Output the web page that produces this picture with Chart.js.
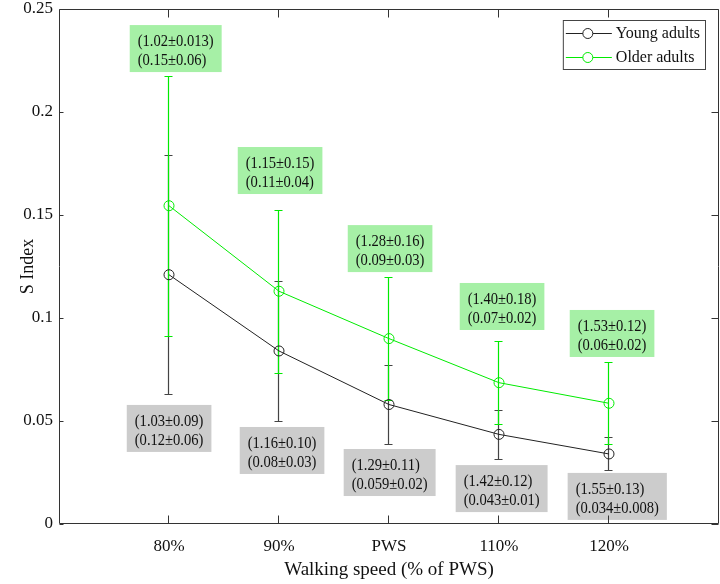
<!DOCTYPE html>
<html>
<head>
<meta charset="utf-8">
<script src="https://cdn.jsdelivr.net/npm/chart.js@4.4.1/dist/chart.umd.min.js"></script>
<style>
  body { margin: 0; background: #fff; }
  #wrap { width: 720px; height: 584px; }
</style>
</head>
<body>
<div id="wrap"><canvas id="sChart" width="720" height="584"></canvas></div>
<script>
// categories and values
const speeds = ['80%', '90%', 'PWS', '110%', '120%'];
const youngMean = [0.121, 0.084, 0.058, 0.0435, 0.034];
const youngSd = [0.058, 0.034, 0.019, 0.012, 0.008];
const olderMean = [0.1545, 0.113, 0.090, 0.0686, 0.0586];
const olderSd = [0.063, 0.0395, 0.030, 0.020, 0.020];
const yTicks = [0, 0.05, 0.1, 0.15, 0.2, 0.25];

// text shown in the boxes next to each point
const youngLabels = [
    ['(1.03\u00b10.09)', '(0.12\u00b10.06)'],
    ['(1.16\u00b10.10)', '(0.08\u00b10.03)'],
    ['(1.29\u00b10.11)', '(0.059\u00b10.02)'],
    ['(1.42\u00b10.12)', '(0.043\u00b10.01)'],
    ['(1.55\u00b10.13)', '(0.034\u00b10.008)']
];
const olderLabels = [
    ['(1.02\u00b10.013)', '(0.15\u00b10.06)'],
    ['(1.15\u00b10.15)', '(0.11\u00b10.04)'],
    ['(1.28\u00b10.16)', '(0.09\u00b10.03)'],
    ['(1.40\u00b10.18)', '(0.07\u00b10.02)'],
    ['(1.53\u00b10.12)', '(0.06\u00b10.02)']
];

// top-left corner of each text box, in axis units
const youngBoxAt = [[0.616, 0.0578], [1.643, 0.0471], [2.588, 0.0364], [3.606, 0.0286], [4.624, 0.0248]];
const olderBoxAt = [[0.643, 0.2422], [1.625, 0.183], [2.625, 0.1451], [3.643, 0.117], [4.643, 0.1039]];

const GREEN = 'rgb(0, 235, 0)';
const DARK = '#222';
const SERIF = '"Liberation Serif", "Times New Roman", serif';

const toPoints = arr => arr.map((v, i) => ({ x: i + 1, y: v }));

const frameTicks = {
    id: 'frameTicks',
    afterDraw(chart) {
        const { ctx, chartArea: a, scales: { x, y } } = chart;
        const l = Math.round(a.left) + 0.5, r = Math.round(a.right) - 0.5;
        const t = Math.round(a.top) + 0.5, b = Math.round(a.bottom) - 0.5;
        ctx.save();
        ctx.strokeStyle = '#333';
        ctx.lineWidth = 1;
        ctx.beginPath();
        ctx.rect(l, t, r - l, b - t);
        speeds.forEach((s, i) => {
            const px = Math.round(x.getPixelForValue(i + 1)) - 0.5;
            ctx.moveTo(px, b); ctx.lineTo(px, b - 8);
            ctx.moveTo(px, t); ctx.lineTo(px, t + 8);
        });
        yTicks.forEach(v => {
            const py = Math.round(y.getPixelForValue(v)) + 0.5;
            ctx.moveTo(l, py); ctx.lineTo(l + 4, py);
            ctx.moveTo(r, py); ctx.lineTo(r - 7, py);
        });
        ctx.stroke();
        ctx.restore();
    }
};

const errorBars = {
    id: 'errorBars',
    beforeDatasetsDraw(chart) {
        const { ctx, scales: { x, y } } = chart;
        ctx.save();
        ctx.lineWidth = 1.2;
        chart.data.datasets.forEach(ds => {
            ctx.strokeStyle = ds.errorColor;
            ctx.beginPath();
            ds.data.forEach((p, i) => {
                const px = Math.round(x.getPixelForValue(p.x)) - 0.5;
                const hi = Math.round(y.getPixelForValue(p.y + ds.errors[i])) + 0.5;
                const lo = Math.round(y.getPixelForValue(p.y - ds.errors[i])) + 0.5;
                ctx.moveTo(px, hi); ctx.lineTo(px, lo);
                ctx.moveTo(px - 4, hi); ctx.lineTo(px + 4, hi);
                ctx.moveTo(px - 4, lo); ctx.lineTo(px + 4, lo);
            });
            ctx.stroke();
        });
        ctx.restore();
    }
};

const textBoxes = {
    id: 'textBoxes',
    afterDatasetsDraw(chart) {
        const { ctx, scales: { x, y } } = chart;
        const squeeze = 0.91;
        ctx.save();
        ctx.font = '16px ' + SERIF;
        ctx.textBaseline = 'middle';
        const drawSet = (labels, anchors, fill) => {
            labels.forEach((lines, i) => {
                const left = x.getPixelForValue(anchors[i][0]);
                const top = y.getPixelForValue(anchors[i][1]);
                const w = Math.max(...lines.map(s => ctx.measureText(s).width)) * squeeze + 16;
                ctx.fillStyle = fill;
                ctx.fillRect(left, top, w, 47);
                ctx.fillStyle = '#111';
                lines.forEach((s, k) => {
                    ctx.save();
                    ctx.translate(left + 8, top + 16.5 + k * 19.5);
                    ctx.scale(squeeze, 1);
                    ctx.fillText(s, 0, 0);
                    ctx.restore();
                });
            });
        };
        drawSet(olderLabels, olderBoxAt, '#a6f0a6');
        drawSet(youngLabels, youngBoxAt, '#cccccc');
        ctx.restore();
    }
};

const lineLegend = {
    id: 'lineLegend',
    afterDraw(chart) {
        const { ctx, chartArea: a } = chart;
        ctx.save();
        ctx.font = '16px ' + SERIF;
        const names = chart.data.datasets.map(d => d.label);
        const w = 53 + Math.max(...names.map(n => ctx.measureText(n).width)) + 5;
        const right = Math.round(a.right) - 14, top = Math.round(a.top) + 11;
        const left = right - w;
        ctx.fillStyle = '#fff';
        ctx.fillRect(left, top, w, 49);
        ctx.strokeStyle = '#444';
        ctx.lineWidth = 1;
        ctx.strokeRect(left + 0.5, top + 0.5, w, 49);
        chart.data.datasets.forEach((ds, k) => {
            const cy = top + 13 + k * 24 + 0.5;
            ctx.strokeStyle = ds.borderColor;
            ctx.beginPath();
            ctx.moveTo(left + 3, cy); ctx.lineTo(left + 20, cy);
            ctx.moveTo(left + 30, cy); ctx.lineTo(left + 49, cy);
            ctx.stroke();
            ctx.beginPath();
            ctx.arc(left + 25, cy, 5, 0, Math.PI * 2);
            ctx.stroke();
            ctx.fillStyle = '#111';
            ctx.textBaseline = 'middle';
            ctx.fillText(ds.label, left + 53, cy);
        });
        ctx.restore();
    }
};

new Chart(document.getElementById('sChart'), {
    type: 'line',
    data: {
        datasets: [{
            label: 'Young adults',
            data: toPoints(youngMean),
            errors: youngSd,
            errorColor: '#444',
            borderColor: DARK,
            borderWidth: 1,
            pointRadius: 5,
            pointBorderWidth: 1,
            pointBackgroundColor: 'rgba(0,0,0,0)',
            pointBorderColor: DARK,
            tension: 0
        }, {
            label: 'Older adults',
            data: toPoints(olderMean),
            errors: olderSd,
            errorColor: GREEN,
            borderColor: GREEN,
            borderWidth: 1,
            pointRadius: 5,
            pointBorderWidth: 1,
            pointBackgroundColor: 'rgba(0,0,0,0)',
            pointBorderColor: GREEN,
            tension: 0
        }]
    },
    options: {
        responsive: false,
        animation: false,
        devicePixelRatio: 1,
        layout: { autoPadding: false, padding: { top: 9, right: 1, left: 0, bottom: 0 } },
        plugins: {
            legend: { display: false },
            tooltip: { enabled: false }
        },
        scales: {
            x: {
                type: 'linear',
                min: 0,
                max: 6,
                grid: { display: false, drawTicks: false },
                border: { display: false },
                afterBuildTicks: scale => {
                    scale.ticks = speeds.map((s, i) => ({ value: i + 1 }));
                },
                afterFit: scale => {
                    scale.height = 60;
                    scale.paddingLeft = 0;
                    scale.paddingRight = 0;
                },
                ticks: {
                    padding: 12,
                    color: '#111',
                    font: { family: SERIF, size: 17 },
                    callback: v => speeds[v - 1] || ''
                },
                title: {
                    display: true,
                    text: 'Walking speed (% of PWS)',
                    color: '#111',
                    font: { family: SERIF, size: 19 },
                    padding: { top: 0, bottom: 3 }
                }
            },
            y: {
                min: 0,
                max: 0.25,
                grid: { display: false, drawTicks: false },
                border: { display: false },
                afterBuildTicks: scale => {
                    scale.ticks = yTicks.map(v => ({ value: v }));
                },
                afterFit: scale => {
                    scale.width = 59;
                    scale.paddingTop = 0;
                    scale.paddingBottom = 0;
                },
                ticks: {
                    padding: 6,
                    color: '#111',
                    font: { family: SERIF, size: 17 },
                    callback: v => String(Math.round(v * 100) / 100)
                },
                title: {
                    display: true,
                    text: 'S Index',
                    color: '#111',
                    font: { family: SERIF, size: 18 },
                    padding: { top: 17, bottom: 0 }
                }
            }
        }
    },
    plugins: [errorBars, textBoxes, frameTicks, lineLegend]
});
</script>
</body>
</html>
